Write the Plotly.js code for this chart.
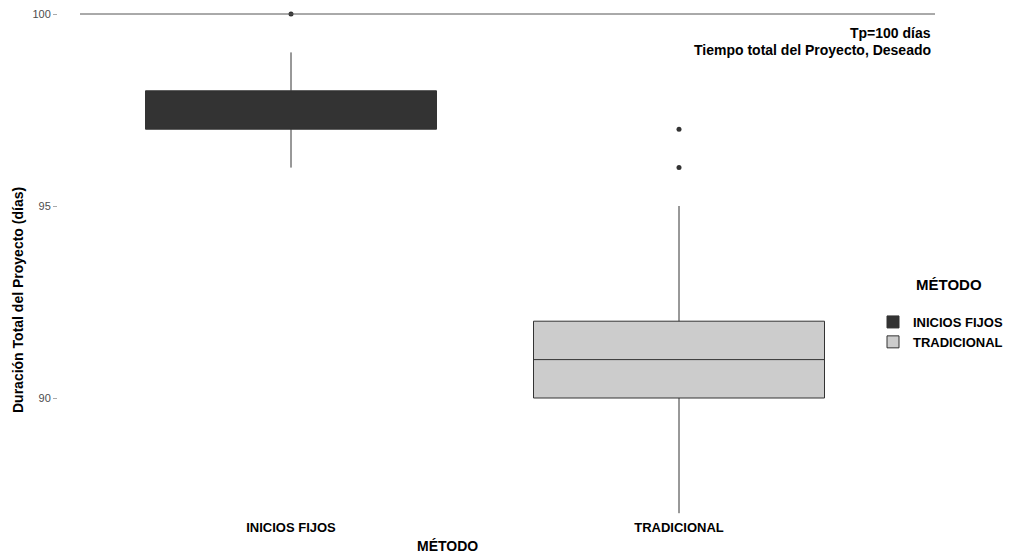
<!DOCTYPE html>
<html>
<head>
<meta charset="utf-8">
<script src="https://cdn.plot.ly/plotly-3.0.1.min.js"></script>
<style>html,body{margin:0;padding:0;background:#fff;}#chart{width:1010px;height:554px;}</style>
</head>
<body>
<div id="chart"></div>
<script>
const categories = ["INICIOS FIJOS", "TRADICIONAL"];
const q1 = [97, 90];
const medians = [98, 91];
const q3 = [98, 92];
const lowerWhisker = [96, 87];
const upperWhisker = [99, 95];
const outlierCategory = ["INICIOS FIJOS", "TRADICIONAL", "TRADICIONAL"];
const outlierValues = [100, 96, 97];
const fillColors = ["#333333", "#cccccc"];
const targetValue = 100;
const yTickValues = [90, 95, 100];

const FONT = "'Liberation Sans Narrow', 'Arial Narrow', 'Liberation Sans', Arial, sans-serif";

// plot area geometry (pixels)
const L = 58, R = 870, T = 2, B = 514;
const W = R - L, H = B - T;
const px2x = p => (p - L) / W;
const py2y = p => 1 - (p - T) / H;

const traces = categories.map((c, i) => ({
  type: "box",
  name: c,
  x: [c],
  q1: [q1[i]],
  median: [medians[i]],
  q3: [q3[i]],
  lowerfence: [lowerWhisker[i]],
  upperfence: [upperWhisker[i]],
  boxpoints: false,
  width: 0.75,
  whiskerwidth: 0,
  fillcolor: fillColors[i],
  line: {color: "#333333", width: 1},
  hoverinfo: "skip"
}));

traces.push({
  type: "scatter",
  mode: "markers",
  x: outlierCategory,
  y: outlierValues,
  marker: {color: "#333333", size: 5},
  showlegend: false,
  hoverinfo: "skip"
});

const layout = {
  width: 1010,
  height: 554,
  margin: {l: L, r: 1010 - R, t: T, b: 554 - B},
  paper_bgcolor: "#ffffff",
  plot_bgcolor: "#ffffff",
  showlegend: true,
  font: {family: FONT},
  xaxis: {
    type: "category",
    categoryorder: "array",
    categoryarray: categories,
    range: [-(291 - L) / 388, (R - 291) / 388],
    showgrid: false,
    zeroline: false,
    showline: false,
    ticks: "",
    ticklabelstandoff: 4,
    tickfont: {family: FONT, size: 13, color: "#000000", weight: "bold"},
    fixedrange: true
  },
  yaxis: {
    range: [100 - (B - 14) / 38.4, 100 + (14 - T) / 38.4],
    tickvals: yTickValues,
    ticktext: yTickValues.map(String),
    showgrid: false,
    zeroline: false,
    showline: false,
    ticks: "outside",
    ticklen: 4,
    tickwidth: 1,
    tickcolor: "#aaaaaa",
    tickfont: {family: "'Liberation Sans', Arial, sans-serif", size: 11, color: "#4d4d4d"},
    fixedrange: true
  },
  legend: {
    xref: "container",
    yref: "container",
    x: 873 / 1010,
    y: 1 - 307 / 554,
    xanchor: "left",
    yanchor: "top",
    font: {family: FONT, size: 13, color: "#000000", weight: "bold"},
    tracegroupgap: 0,
    itemwidth: 30,
    bgcolor: "rgba(0,0,0,0)"
  },
  shapes: [{
    type: "line",
    xref: "paper", yref: "y",
    x0: px2x(80), x1: px2x(935),
    y0: targetValue, y1: targetValue,
    line: {color: "#555555", width: 1}
  }],
  annotations: [
    {text: "Tp=100 días", xref: "paper", yref: "paper", x: px2x(933), y: py2y(33),
     xanchor: "right", yanchor: "middle", showarrow: false,
     font: {family: FONT, size: 14, color: "#000000", weight: "bold"}},
    {text: "Tiempo total del Proyecto, Deseado", xref: "paper", yref: "paper", x: px2x(933), y: py2y(50),
     xanchor: "right", yanchor: "middle", showarrow: false,
     font: {family: FONT, size: 14, color: "#000000", weight: "bold"}},
    {text: "Duración Total del Proyecto (días)", xref: "paper", yref: "paper", x: px2x(18), y: py2y(300),
     xanchor: "center", yanchor: "middle", textangle: -90, showarrow: false,
     font: {family: FONT, size: 14, color: "#000000", weight: "bold"}},
    {text: "MÉTODO", xref: "paper", yref: "paper", x: px2x(447), y: py2y(546),
     xanchor: "center", yanchor: "middle", showarrow: false,
     font: {family: FONT, size: 14, color: "#000000", weight: "bold"}},
    {text: "MÉTODO", xref: "paper", yref: "paper", x: px2x(949), y: py2y(284),
     xanchor: "center", yanchor: "middle", showarrow: false,
     font: {family: FONT, size: 15, color: "#000000", weight: "bold"}}
  ]
};

Plotly.newPlot("chart", traces, layout, {displayModeBar: false, staticPlot: true});
</script>
</body>
</html>
